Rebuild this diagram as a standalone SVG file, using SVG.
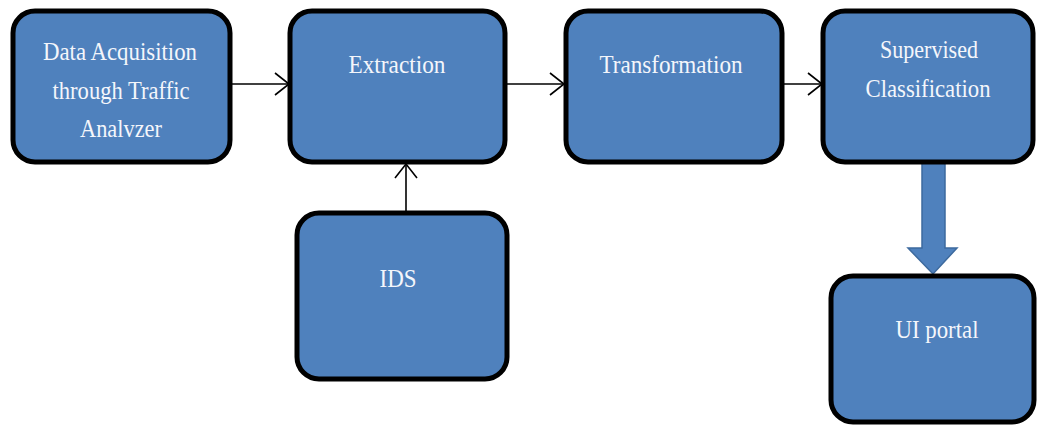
<svg xmlns="http://www.w3.org/2000/svg" width="1037" height="425" viewBox="0 0 1037 425">
  <style>
    .box { fill: #4F81BD; stroke: #000; stroke-width: 5; }
    .lbl { font-family: "Liberation Serif", "Times New Roman", serif; font-size: 26px; fill: #f4f6fb; text-anchor: middle; }
    .conn { fill: none; stroke: #000; stroke-width: 1.6; }
    .block { fill: #4F81BD; stroke: #3d6a9e; stroke-width: 1.5; }
  </style>
  <defs>
    <marker id="open" viewBox="0 0 16 24" refX="15" refY="12" markerWidth="16" markerHeight="24" markerUnits="userSpaceOnUse" orient="auto">
      <polyline points="1,1 15,12 1,23" fill="none" stroke="#000" stroke-width="1.6"/>
    </marker>
  </defs>
  <rect width="1037" height="425" fill="#fff"/>

  <g id="connectors">
    <line class="conn" x1="230" y1="84" x2="289" y2="84" marker-end="url(#open)"/>
    <line class="conn" x1="505" y1="84" x2="564" y2="84" marker-end="url(#open)"/>
    <line class="conn" x1="782" y1="84" x2="822" y2="84" marker-end="url(#open)"/>
    <line class="conn" x1="406" y1="212" x2="406" y2="164" marker-end="url(#open)"/>
    <path class="block" d="M922,163 L945,163 L945,248 L957,248 L933,274 L908,248 L922,248 Z"/>
  </g>

  <g id="data-acquisition">
    <rect class="box" x="13" y="11" width="217" height="151" rx="22"/>
    <text class="lbl" x="120" y="60" textLength="154" lengthAdjust="spacingAndGlyphs">Data Acquisition</text>
    <text class="lbl" x="121" y="99" textLength="137" lengthAdjust="spacingAndGlyphs">through Traffic</text>
    <text class="lbl" x="121" y="137" textLength="82" lengthAdjust="spacingAndGlyphs">Analvzer</text>
  </g>

  <g id="extraction">
    <rect class="box" x="290" y="11" width="215" height="151" rx="22"/>
    <text class="lbl" x="397" y="73" textLength="97" lengthAdjust="spacingAndGlyphs">Extraction</text>
  </g>

  <g id="transformation">
    <rect class="box" x="566" y="11" width="216" height="151" rx="22"/>
    <text class="lbl" x="671" y="73" textLength="143" lengthAdjust="spacingAndGlyphs">Transformation</text>
  </g>

  <g id="supervised-classification">
    <rect class="box" x="823" y="11" width="210" height="151" rx="22"/>
    <text class="lbl" x="929" y="58" textLength="98" lengthAdjust="spacingAndGlyphs">Supervised</text>
    <text class="lbl" x="928" y="97" textLength="125" lengthAdjust="spacingAndGlyphs">Classification</text>
  </g>

  <g id="ids">
    <rect class="box" x="297" y="213" width="210" height="166" rx="22"/>
    <text class="lbl" x="398" y="287" textLength="37" lengthAdjust="spacingAndGlyphs">IDS</text>
  </g>

  <g id="ui-portal">
    <rect class="box" x="831" y="276" width="203" height="146" rx="22"/>
    <text class="lbl" x="937" y="338" textLength="83" lengthAdjust="spacingAndGlyphs">UI portal</text>
  </g>
</svg>
